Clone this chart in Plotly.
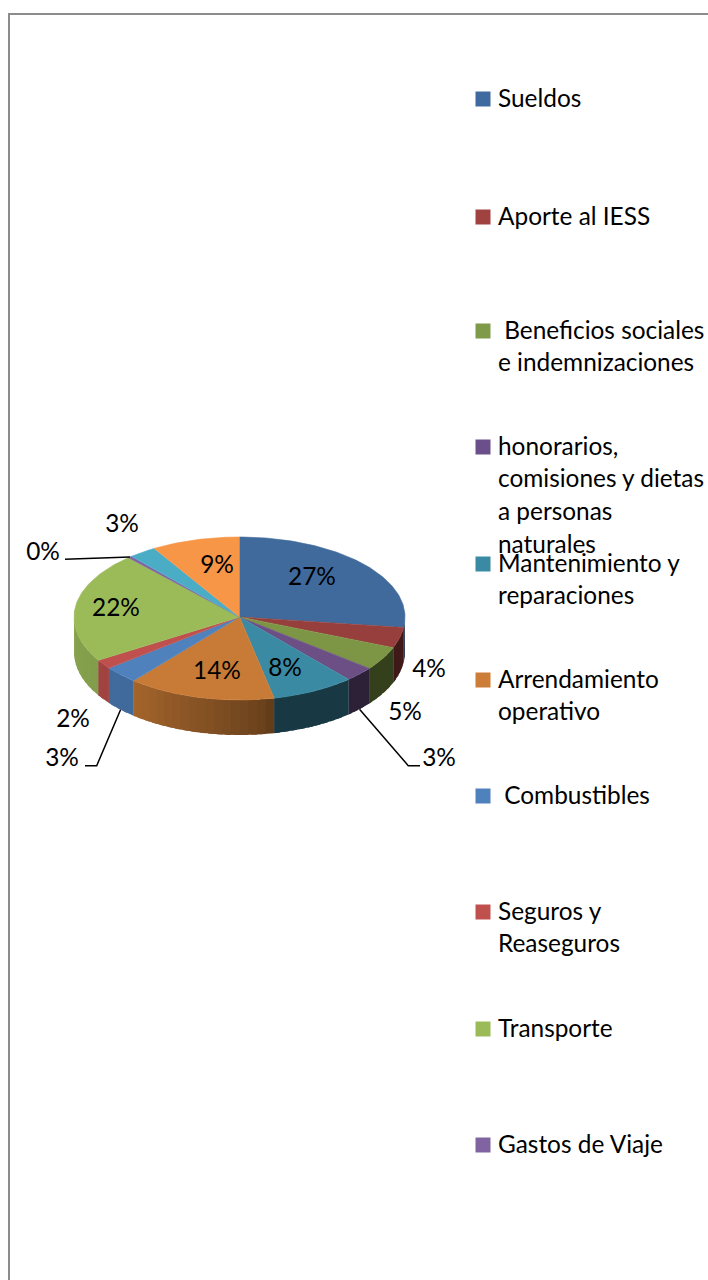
"""
Gastos: 3D style pie (tilted disc) with a spaced legend on the right
"""
import math

import plotly.graph_objects as go

# data
categories = [
    "Sueldos", "Aporte al IESS", "Beneficios sociales", "honorarios", "Mantenimiento",
    "Arrendamiento", "Combustibles", "Seguros", "Transporte", "Gastos de Viaje",
    "Otros 1", "Otros 2",
]
values = [27, 4, 4.6, 2.9, 8.1, 14.4, 3.4, 1.8, 22, 0.4, 2.7, 8.6]
colors = [
    "#3f6a9b", "#973f3d", "#7d9645", "#6b4f85", "#3b8aa3", "#c87b36",
    "#4f81bd", "#c0504d", "#9bbb59", "#8064a2", "#4bacc6", "#f79646",
]
legend_lines = [
    ["Sueldos"],
    ["Aporte al IESS"],
    ["\u00a0Beneficios sociales", "e indemnizaciones"],
    ["honorarios,", "comisiones y dietas", "a personas", "naturales"],
    ["Mantenimiento y", "reparaciones"],
    ["Arrendamiento", "operativo"],
    ["\u00a0Combustibles"],
    ["Seguros y", "Reaseguros"],
    ["Transporte"],
    ["Gastos de Viaje"],
]
legend_colors = [
    "#3f6aa0", "#a04340", "#7f9a48", "#6b4f8a", "#3b8aa3", "#cc7d38",
    "#4f81bd", "#c0504d", "#9bbb59", "#8064a2",
]

# layout in page pixels
FONT = "Lato, Carlito, Calibri, sans-serif"
TEXT_SIZE = 24.4
CX, CY = 239.5, 617
RX, RY_TOP, RY_BOTTOM = 165.5, 80, 83
DEPTH = 35
LEGEND_Y = [99, 217, 331, 447, 564, 680, 796, 912, 1029, 1145]
LINE_PITCH = 32.7
LABEL_POS = [
    (312, 579), (429, 671), (405, 714), (439, 760), (285, 670), (217, 673),
    (62, 760), (73, 721), (116, 610), (43, 554), (122, 526), (217, 567),
]
# slice index -> elbow points of the leader line
LEADERS = {
    3: [(408.3, 765.7), (420, 765.7)],
    6: [(96.7, 765.7), (85, 765.7)],
    9: [(65, 559.3)],
}


def rim(deg, drop=0):
    """Point on the disc edge, degrees clockwise from the top."""
    a = math.radians(deg)
    dy = -math.cos(a)
    ry = RY_BOTTOM if dy > 0 else RY_TOP
    return CX + RX * math.sin(a), CY + ry * dy + drop


def arc(start, end):
    n = max(2, int(abs(end - start)) + 2)
    return [start + (end - start) * i / (n - 1) for i in range(n)]


def wall_shade(deg):
    knots = [(90, 0.42), (168, 0.42), (170, 0.53), (219, 0.82), (270, 0.88)]
    for (a0, s0), (a1, s1) in zip(knots, knots[1:]):
        if a0 <= deg <= a1:
            return s0 + (s1 - s0) * (deg - a0) / (a1 - a0)
    return 0.88


def darken(hex_color, k):
    r, g, b = [int(hex_color[i:i + 2], 16) for i in (1, 3, 5)]
    return f"rgb({int(r * k)},{int(g * k)},{int(b * k)})"


def polygon(xs, ys, color, width=0.6):
    return go.Scatter(
        x=xs, y=ys, mode="lines", fill="toself", fillcolor=color,
        line=dict(color=color, width=width), hoverinfo="skip", showlegend=False,
    )


total = sum(values)
edges = [0]
for v in values:
    edges.append(edges[-1] + v / total * 360)

fig = go.Figure()

# side walls, only the front half of the disc shows
# each strip runs on under the next one so no seams show
STEP = 3
for i, color in enumerate(colors):
    start, end = max(edges[i], 90), min(edges[i + 1], 270)
    if end <= start:
        continue
    a = start
    while a < end:
        b = min(a + STEP, end)
        pts = arc(a, min(b + 2, end))
        top = [rim(d) for d in pts]
        bottom = [rim(d, DEPTH) for d in reversed(pts)]
        xs = [p[0] for p in top + bottom]
        ys = [p[1] for p in top + bottom]
        fig.add_trace(polygon(xs, ys, darken(color, wall_shade((a + b) / 2)), width=0))
        a = b

# top face
for i, color in enumerate(colors):
    pts = [rim(d) for d in arc(edges[i], edges[i + 1])]
    xs = [CX] + [p[0] for p in pts]
    ys = [CY] + [p[1] for p in pts]
    fig.add_trace(polygon(xs, ys, color))

# leader lines, starting from the middle of their slice
for i, elbows in LEADERS.items():
    mid = (edges[i] + edges[i + 1]) / 2
    start = rim(mid, DEPTH if 90 < mid < 270 else 0)
    pts = [start] + elbows
    fig.add_trace(go.Scatter(
        x=[p[0] for p in pts], y=[p[1] for p in pts], mode="lines",
        line=dict(color="#000000", width=1.5), hoverinfo="skip", showlegend=False,
    ))

# percent labels
fig.add_trace(go.Scatter(
    x=[p[0] for p in LABEL_POS], y=[p[1] for p in LABEL_POS], mode="text",
    text=[f"{round(v / total * 100)}%" for v in values],
    textposition="middle center",
    textfont=dict(family=FONT, size=TEXT_SIZE, color="#000000"),
    hoverinfo="skip", showlegend=False,
))

# legend
fig.add_trace(go.Scatter(
    x=[483] * len(LEGEND_Y), y=LEGEND_Y, mode="markers",
    marker=dict(symbol="square", size=15, color=legend_colors, line=dict(width=0)),
    hoverinfo="skip", showlegend=False,
))
for y0, lines in zip(LEGEND_Y, legend_lines):
    for k, line in enumerate(lines):
        fig.add_annotation(
            x=497, y=y0 - 2 + k * LINE_PITCH, text=line, showarrow=False,
            xanchor="left", yanchor="middle", borderpad=0,
            font=dict(family=FONT, size=TEXT_SIZE, color="#000000"),
        )

# frame of the pasted chart, cut off by the page
fig.add_shape(
    type="path", path="M 9 1280 L 9 14 L 708 14",
    line=dict(color="#8c8c8c", width=2),
)

fig.update_layout(
    width=708, height=1280,
    margin=dict(l=0, r=0, t=0, b=0),
    paper_bgcolor="#ffffff", plot_bgcolor="#ffffff",
    xaxis=dict(range=[0, 708], visible=False, fixedrange=True),
    yaxis=dict(range=[1280, 0], visible=False, fixedrange=True),
)

fig.write_html(
    "out.html",
    config=dict(displayModeBar=False),
    post_script="document.body.style.margin='0';document.documentElement.style.overflow='hidden';",
)
